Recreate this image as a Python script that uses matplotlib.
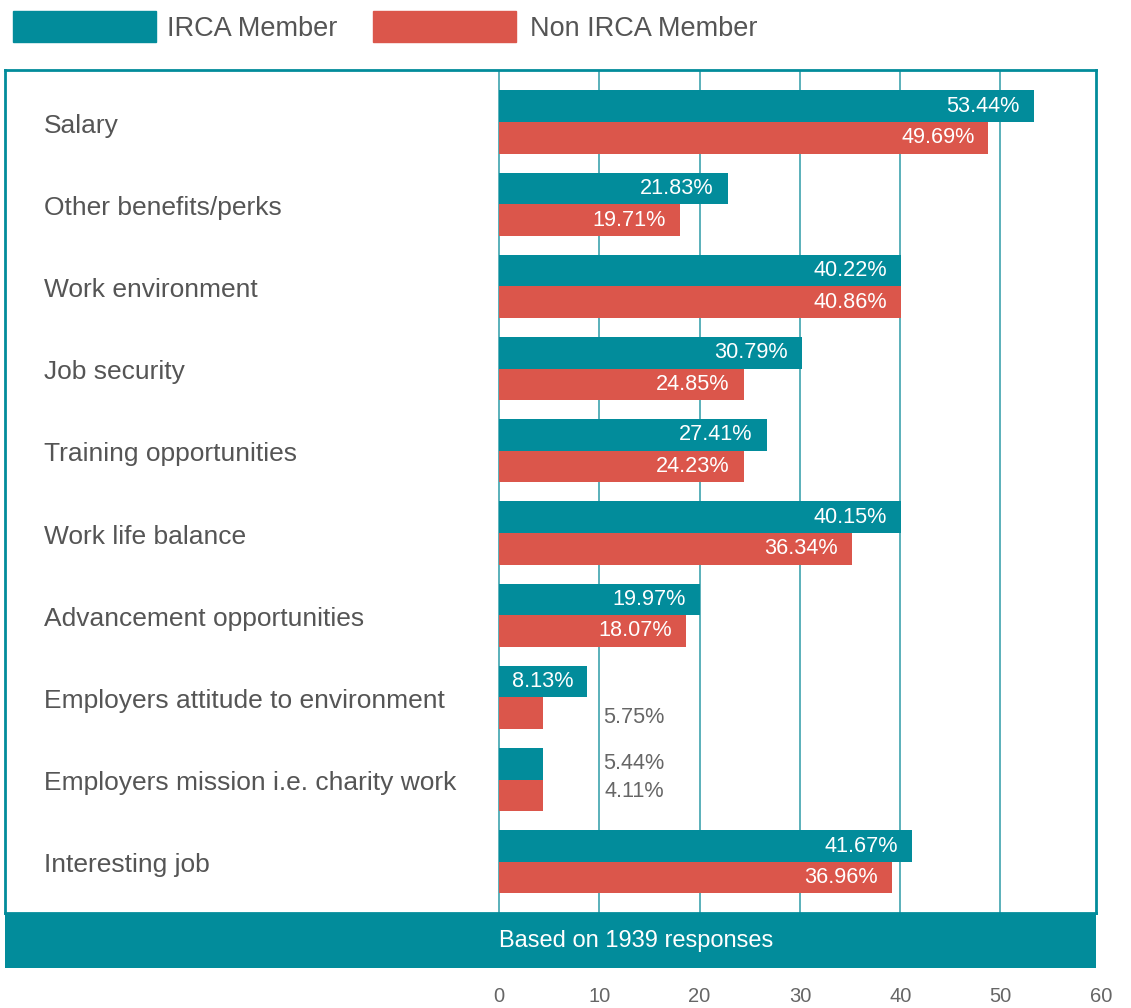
import matplotlib
matplotlib.use("Agg")
import matplotlib.pyplot as plt
from matplotlib.patches import Rectangle

# ---- data ----
categories = ["Salary", "Other benefits/perks", "Work environment", "Job security",
              "Training opportunities", "Work life balance", "Advancement opportunities",
              "Employers attitude to environment", "Employers mission i.e. charity work",
              "Interesting job"]
irca_len = [53.3, 22.8, 40.1, 30.2, 26.7, 40.1, 20.0, 8.8, 4.4, 41.2]
non_len = [48.8, 18.0, 40.1, 24.4, 24.4, 35.2, 18.6, 4.4, 4.4, 39.2]
irca_labels = ["53.44%", "21.83%", "40.22%", "30.79%", "27.41%", "40.15%", "19.97%",
               "8.13%", "5.44%", "41.67%"]
non_labels = ["49.69%", "19.71%", "40.86%", "24.85%", "24.23%", "36.34%", "18.07%",
              "5.75%", "4.11%", "36.96%"]
irca_inside = [True, True, True, True, True, True, True, True, False, True]
non_inside = [True, True, True, True, True, True, True, False, False, True]
ticks = [0, 10, 20, 30, 40, 50, 60]
series_names = ["IRCA Member", "Non IRCA Member"]
note = "Based on 1939 responses"

TEAL = "#028C9B"
RED = "#DB564B"
GRID = "#5AB0BA"
TXT = "#555555"
FONT = "Liberation Sans"

W, H = 1131, 1008
fig = plt.figure(figsize=(W / 100, H / 100), dpi=100)

# pixel geometry
x0_px = 499.0          # data 0
ppu = 10.03            # px per unit
fl, fr, ft, fb = 5, 1096, 70, 913


def fx(px):
    return px / W


def fy(py):
    return 1 - py / H


xmin = (fl - x0_px) / ppu
xmax = (fr - x0_px) / ppu

ax = fig.add_axes([fx(fl), fy(fb), fx(fr - fl), (fb - ft) / H])
ax.set_xlim(xmin, xmax)
row = 82.2
nrows = (fb - ft) / row
ax.set_ylim(nrows, 0)
centers = [(122 - ft) / row + i for i in range(len(categories))]
bh = 31.6 / row

for g in ticks:
    if g <= xmax:
        ax.axvline(g, color=GRID, lw=1.4, zorder=1)

ax.barh([c - bh / 2 for c in centers], irca_len, height=bh, color=TEAL, zorder=2)
ax.barh([c + bh / 2 for c in centers], non_len, height=bh, color=RED, zorder=2)

pad = 14 / ppu
outside_shift = {"non_single": 0.05, "non_pair": -0.05}
for i, c in enumerate(centers):
    ax.text(xmin + (44 - fl) / ppu, c + 0.045, categories[i], ha="left", va="center",
            fontsize=19, color=TXT, family=FONT)
    if irca_inside[i]:
        ax.text(irca_len[i] - pad, c - bh / 2, irca_labels[i], ha="right", va="center",
                fontsize=15.6, color="white", family=FONT, zorder=3)
    else:
        ax.text(16.5, c - bh / 2, irca_labels[i], ha="right", va="center",
                fontsize=15.6, color="#666666", family=FONT, zorder=3)
    if non_inside[i]:
        ax.text(non_len[i] - pad, c + bh / 2, non_labels[i], ha="right", va="center",
                fontsize=15.6, color="white", family=FONT, zorder=3)
    else:
        sh = outside_shift["non_single"] if irca_inside[i] else outside_shift["non_pair"]
        ax.text(16.5, c + bh / 2 + sh, non_labels[i],
                ha="right", va="center", fontsize=15.6, color="#666666", family=FONT, zorder=3)

ax.set_xticks([])
ax.set_yticks([])
for s in ax.spines.values():
    s.set_color(TEAL)
    s.set_linewidth(2)

# banner
bax = fig.add_axes([fx(fl), fy(968), fx(fr - fl), (968 - fb) / H])
bax.set_facecolor(TEAL)
bax.set_xlim(xmin, xmax)
bax.set_ylim(0, 1)
bax.set_xticks([])
bax.set_yticks([])
for s in bax.spines.values():
    s.set_visible(False)
bax.text(0, 0.5, note, ha="left", va="center", color="white", fontsize=17, family=FONT)

# tick axis
tax = fig.add_axes([fx(fl), fy(1008), fx(1125 - fl), 20 / H])
tax.set_xlim(xmin, (1125 - x0_px) / ppu)
tax.set_ylim(0, 1)
tax.axis("off")
for t in ticks:
    tax.text(t, 0.55, str(t), ha="center", va="center", fontsize=14.5, color="#666666",
             family=FONT)

# legend
fig.patches.append(Rectangle((fx(13), fy(42)), fx(143), 31 / H, color=TEAL,
                             transform=fig.transFigure))
fig.patches.append(Rectangle((fx(373), fy(42)), fx(143), 31 / H, color=RED,
                             transform=fig.transFigure))
fig.text(fx(167), fy(29), series_names[0], ha="left", va="center", fontsize=19.5,
         color=TXT, family=FONT)
fig.text(fx(530), fy(29), series_names[1], ha="left", va="center", fontsize=19.5,
         color=TXT, family=FONT)

fig.savefig("out.png", dpi=100)
